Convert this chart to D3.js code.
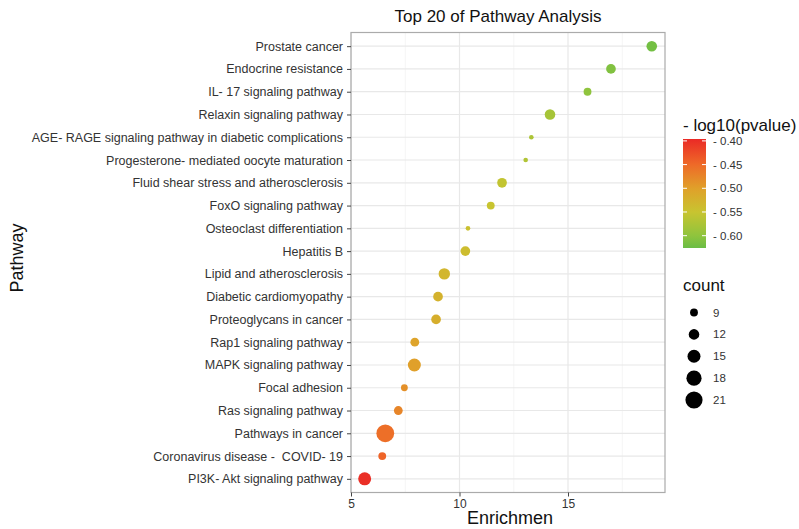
<!DOCTYPE html>
<html>
<head>
<meta charset="utf-8">
<script src="https://cdn.jsdelivr.net/npm/d3@7"></script>
<style>
  body { margin: 0; background: #ffffff; }
  text { font-family: "Liberation Sans", Arial, sans-serif; white-space: pre; }
</style>
</head>
<body>
<div id="chart"></div>
<script>
// pathway names, top to bottom as drawn
var pathways = [
    "Prostate cancer",
    "Endocrine resistance",
    "IL- 17 signaling pathway",
    "Relaxin signaling pathway",
    "AGE- RAGE signaling pathway in diabetic complications",
    "Progesterone- mediated oocyte maturation",
    "Fluid shear stress and atherosclerosis",
    "FoxO signaling pathway",
    "Osteoclast differentiation",
    "Hepatitis B",
    "Lipid and atherosclerosis",
    "Diabetic cardiomyopathy",
    "Proteoglycans in cancer",
    "Rap1 signaling pathway",
    "MAPK signaling pathway",
    "Focal adhesion",
    "Ras signaling pathway",
    "Pathways in cancer",
    "Coronavirus disease -  COVID- 19",
    "PI3K- Akt signaling pathway"
];
var enrichment = [18.86, 16.98, 15.9, 14.17, 13.31, 13.05, 11.96, 11.44, 10.39, 10.27,
                  9.3, 9.01, 8.92, 7.94, 7.92, 7.46, 7.18, 6.58, 6.44, 5.63];
var counts = [12, 11, 9, 12, 6, 6, 11, 9, 6, 11,
              13, 11, 11, 10, 15, 8, 10, 22, 9, 15];
var logp = [-0.62, -0.61, -0.6, -0.58, -0.575, -0.57, -0.555, -0.55, -0.545, -0.54,
            -0.53, -0.525, -0.52, -0.505, -0.5, -0.485, -0.475, -0.455, -0.445, -0.4];

var xTicks = [5, 10, 15];
var xMinorTicks = [7.5, 12.5, 17.5];
var colorTicks = [-0.40, -0.45, -0.50, -0.55, -0.60];
var sizeBreaks = [9, 12, 15, 18, 21];

var width = 799, height = 529;
var panel = { left: 351, right: 665, top: 32.5, bottom: 492.5 };

var svg = d3.select("#chart").append("svg")
    .attr("width", width)
    .attr("height", height);

svg.append("rect").attr("width", width).attr("height", height).attr("fill", "#ffffff");

// scales
var x = d3.scaleLinear().domain([5, 19.47]).range([panel.left, panel.right]);
var y = d3.scalePoint().domain(pathways).range([panel.top, panel.bottom]).padding(0.6);
var r = d3.scaleSqrt().domain([6, 22]).range([2.3, 8.9]);

// colour ramp, low (green) to high (red)
var colorDomain = [-0.626, -0.396];
var colorStops = ["#6abd45", "#8fc43d", "#c8c430", "#e0a02a", "#ee6a28", "#ea2a26"];
var stopPos = [0, 0.113, 0.33, 0.548, 0.765, 1];
var color = d3.scaleLinear()
    .domain(stopPos.map(function (t) {
        return colorDomain[0] + (colorDomain[1] - colorDomain[0]) * t;
    }))
    .range(colorStops)
    .interpolate(d3.interpolateRgb);

// grid
var grid = svg.append("g");
grid.selectAll(".minor").data(xMinorTicks).enter().append("line")
    .attr("x1", d => x(d)).attr("x2", d => x(d))
    .attr("y1", panel.top).attr("y2", panel.bottom)
    .attr("stroke", "#f0f0f0").attr("stroke-width", 0.7);
grid.selectAll(".major").data(xTicks).enter().append("line")
    .attr("x1", d => x(d)).attr("x2", d => x(d))
    .attr("y1", panel.top).attr("y2", panel.bottom)
    .attr("stroke", "#e8e8e8").attr("stroke-width", 1.2);
grid.selectAll(".hrow").data(pathways).enter().append("line")
    .attr("x1", panel.left).attr("x2", panel.right)
    .attr("y1", d => y(d)).attr("y2", d => y(d))
    .attr("stroke", "#e8e8e8").attr("stroke-width", 1.2);

// points
var rows = pathways.map(function (p, i) {
    return { name: p, enr: enrichment[i], count: counts[i], lp: logp[i] };
});
svg.append("g").selectAll("circle")
    .data(rows)
    .enter()
    .append("circle")
    .attr("cx", d => x(d.enr))
    .attr("cy", d => y(d.name))
    .attr("r", d => r(d.count))
    .attr("fill", d => color(d.lp));

// panel border
svg.append("rect")
    .attr("x", panel.left).attr("y", panel.top)
    .attr("width", panel.right - panel.left)
    .attr("height", panel.bottom - panel.top)
    .attr("fill", "none")
    .attr("stroke", "#ababab")
    .attr("stroke-width", 1.2);

// y axis
var yAxis = svg.append("g")
    .attr("transform", "translate(" + panel.left + ",0)")
    .call(d3.axisLeft(y).tickSize(4).tickPadding(4));
yAxis.select(".domain").remove();
yAxis.selectAll("line").attr("stroke", "#444");
yAxis.selectAll("text").attr("font-size", "12.5px").attr("fill", "#333")
    .style("font-family", "Liberation Sans, Arial, sans-serif");

// x axis
var xAxis = svg.append("g")
    .attr("transform", "translate(0," + panel.bottom + ")")
    .call(d3.axisBottom(x).tickValues(xTicks).tickSize(4).tickPadding(3));
xAxis.select(".domain").remove();
xAxis.selectAll("line").attr("stroke", "#444");
xAxis.selectAll("text").attr("font-size", "12px").attr("fill", "#333")
    .style("font-family", "Liberation Sans, Arial, sans-serif");

// titles
svg.append("text")
    .attr("x", 498).attr("y", 22)
    .attr("text-anchor", "middle")
    .attr("font-size", "17px")
    .attr("fill", "#111")
    .text("Top 20 of Pathway Analysis");

svg.append("text")
    .attr("x", 510).attr("y", 524)
    .attr("text-anchor", "middle")
    .attr("font-size", "18px")
    .attr("fill", "#111")
    .text("Enrichmen");

svg.append("text")
    .attr("transform", "translate(23,258) rotate(-90)")
    .attr("text-anchor", "middle")
    .attr("font-size", "18px")
    .attr("fill", "#111")
    .text("Pathway");

// colour legend
var barX = 683, barW = 23, barTop = 139, barBottom = 248;
svg.append("text")
    .attr("x", barX).attr("y", 131)
    .attr("font-size", "17px").attr("fill", "#111")
    .text("- log10(pvalue)");

var defs = svg.append("defs");
var grad = defs.append("linearGradient")
    .attr("id", "cbar")
    .attr("x1", "0").attr("y1", "1").attr("x2", "0").attr("y2", "0");
colorStops.forEach(function (c, i) {
    grad.append("stop")
        .attr("offset", (stopPos[i] * 100) + "%")
        .attr("stop-color", c);
});
svg.append("rect")
    .attr("x", barX).attr("y", barTop)
    .attr("width", barW).attr("height", barBottom - barTop)
    .attr("fill", "url(#cbar)");

var cy = d3.scaleLinear().domain(colorDomain).range([barBottom, barTop]);
var cticks = svg.append("g").selectAll("g").data(colorTicks).enter().append("g");
cticks.append("line")
    .attr("x1", barX).attr("x2", barX + 4)
    .attr("y1", d => cy(d)).attr("y2", d => cy(d))
    .attr("stroke", "#ffffff").attr("stroke-width", 1);
cticks.append("line")
    .attr("x1", barX + barW - 4).attr("x2", barX + barW)
    .attr("y1", d => cy(d)).attr("y2", d => cy(d))
    .attr("stroke", "#ffffff").attr("stroke-width", 1);
cticks.append("text")
    .attr("x", 713).attr("y", d => cy(d) + 4)
    .attr("font-size", "11.5px").attr("fill", "#333")
    .text(d => "- " + Math.abs(d).toFixed(2));

// size legend
svg.append("text")
    .attr("x", barX).attr("y", 291)
    .attr("font-size", "17px").attr("fill", "#111")
    .text("count");

var sizeY = d3.scalePoint().domain(sizeBreaks).range([312.5, 400]);
var skeys = svg.append("g").selectAll("g").data(sizeBreaks).enter().append("g");
skeys.append("circle")
    .attr("cx", 694).attr("cy", d => sizeY(d))
    .attr("r", d => r(d))
    .attr("fill", "#000");
skeys.append("text")
    .attr("x", 713).attr("y", d => sizeY(d) + 4)
    .attr("font-size", "11.5px").attr("fill", "#333")
    .text(d => d);
</script>
</body>
</html>
